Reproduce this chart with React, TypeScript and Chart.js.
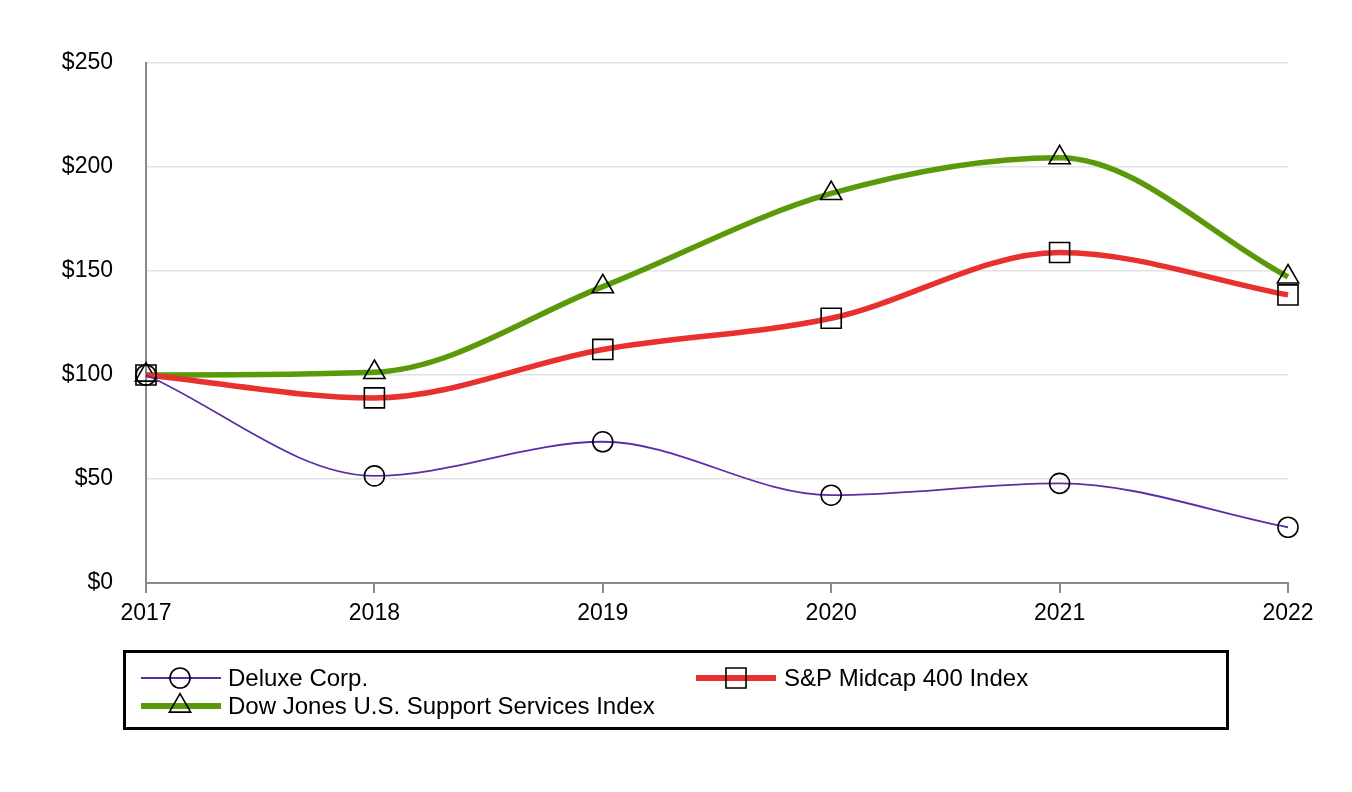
import React, { useEffect, useRef } from "react";
import { Chart, registerables } from "chart.js";

Chart.register(...registerables);

const years = ["2017", "2018", "2019", "2020", "2021", "2022"];
const deluxe = [100, 51.5, 67.9, 42.2, 47.9, 26.8];
const spMidcap = [100, 89, 112.3, 127.3, 158.9, 138.5];
const dowJones = [100, 101.3, 142.5, 187.3, 204.5, 147.2];
const yTicks = [0, 50, 100, 150, 200, 250];

const seriesNames = ["Deluxe Corp.", "S&P Midcap 400 Index", "Dow Jones U.S. Support Services Index"];
const seriesColors = ["#5B2DA6", "#E8302E", "#5A9A0A"];
const seriesWidths = [1.8, 5.5, 5.5];
const seriesMarkers = ["circle", "rect", "triangle"];
const seriesRadius = [10, 14.2, 12.3];

const FONT = "Arial, 'Liberation Sans', Helvetica, sans-serif";

function drawMarker(ctx: CanvasRenderingContext2D, style: string, x: number, y: number, r: number) {
  ctx.beginPath();
  if (style === "circle") {
    ctx.arc(x, y, r, 0, Math.PI * 2);
  } else if (style === "rect") {
    const s = Math.SQRT1_2 * r;
    ctx.rect(x - s, y - s, 2 * s, 2 * s);
  } else {
    const h = r;
    ctx.moveTo(x, y - h);
    ctx.lineTo(x + h * 0.866, y + h * 0.5);
    ctx.lineTo(x - h * 0.866, y + h * 0.5);
    ctx.closePath();
  }
  ctx.strokeStyle = "#000";
  ctx.lineWidth = 1.6;
  ctx.stroke();
}

const legendPlugin = {
  id: "boxLegend",
  afterDraw(chart: any) {
    const ctx: CanvasRenderingContext2D = chart.ctx;
    ctx.save();
    ctx.strokeStyle = "#000";
    ctx.lineWidth = 3;
    ctx.strokeRect(124.5, 651.5, 1103, 77);
    const items = [
      { i: 0, x0: 141, mx: 180, tx: 228, y: 678 },
      { i: 1, x0: 696, mx: 736, tx: 784, y: 678 },
      { i: 2, x0: 141, mx: 180, tx: 228, y: 706 },
    ];
    items.forEach((it) => {
      ctx.beginPath();
      ctx.moveTo(it.x0, it.y);
      ctx.lineTo(it.x0 + 80, it.y);
      ctx.strokeStyle = seriesColors[it.i];
      ctx.lineWidth = seriesWidths[it.i] < 3 ? 2 : 6;
      ctx.stroke();
      drawMarker(ctx, seriesMarkers[it.i], it.mx, it.y, seriesRadius[it.i]);
      ctx.fillStyle = "#000";
      ctx.font = `24px ${FONT}`;
      ctx.textBaseline = "middle";
      ctx.textAlign = "left";
      ctx.fillText(seriesNames[it.i], it.tx, it.y + 1);
    });
    ctx.restore();
  },
};

export default function App() {
  const ref = useRef<HTMLCanvasElement>(null);
  useEffect(() => {
    if (!ref.current) return;
    const values = [deluxe, spMidcap, dowJones];
    const chart = new Chart(ref.current, {
      type: "line",
      data: {
        labels: years,
        datasets: values.map((v, i) => ({
          label: seriesNames[i],
          data: v,
          borderColor: seriesColors[i],
          borderWidth: seriesWidths[i],
          cubicInterpolationMode: "monotone" as const,
          pointStyle: seriesMarkers[i] as any,
          pointRadius: seriesRadius[i],
          pointBackgroundColor: "rgba(0,0,0,0)",
          pointBorderColor: "#000",
          pointBorderWidth: 1.6,
          clip: false as any,
          fill: false,
        })),
      },
      options: {
        animation: false,
        responsive: true,
        maintainAspectRatio: false,
        events: [],
        layout: { padding: { top: 63, right: 64, bottom: 0, left: 0 } },
        plugins: { legend: { display: false }, tooltip: { enabled: false } },
        scales: {
          x: {
            type: "category",
            offset: false,
            afterFit: (s: any) => {
              s.height = 209;
            },
            grid: { drawOnChartArea: false, drawTicks: true, tickLength: 10, color: "#8a8a8a", lineWidth: 2 },
            border: { color: "#8a8a8a", width: 2 },
            ticks: { color: "#000", font: { family: FONT, size: 23 }, padding: 7, maxRotation: 0 },
          },
          y: {
            min: 0,
            max: 250,
            afterFit: (s: any) => {
              s.width = 146;
            },
            afterBuildTicks: (s: any) => {
              s.ticks = yTicks.map((v) => ({ value: v }));
            },
            grid: { drawTicks: false, color: "#e2e2e2", lineWidth: 1.5 },
            border: { color: "#8a8a8a", width: 2 },
            ticks: {
              color: "#000",
              font: { family: FONT, size: 23 },
              padding: 33,
              callback: (v: any) => "$" + v,
            },
          },
        },
      },
      plugins: [legendPlugin],
    });
    return () => chart.destroy();
  }, []);
  return (
    <div style={{ position: "absolute", left: 0, top: 0, width: 1352, height: 792, background: "#fff" }}>
      <canvas ref={ref} />
    </div>
  );
}
